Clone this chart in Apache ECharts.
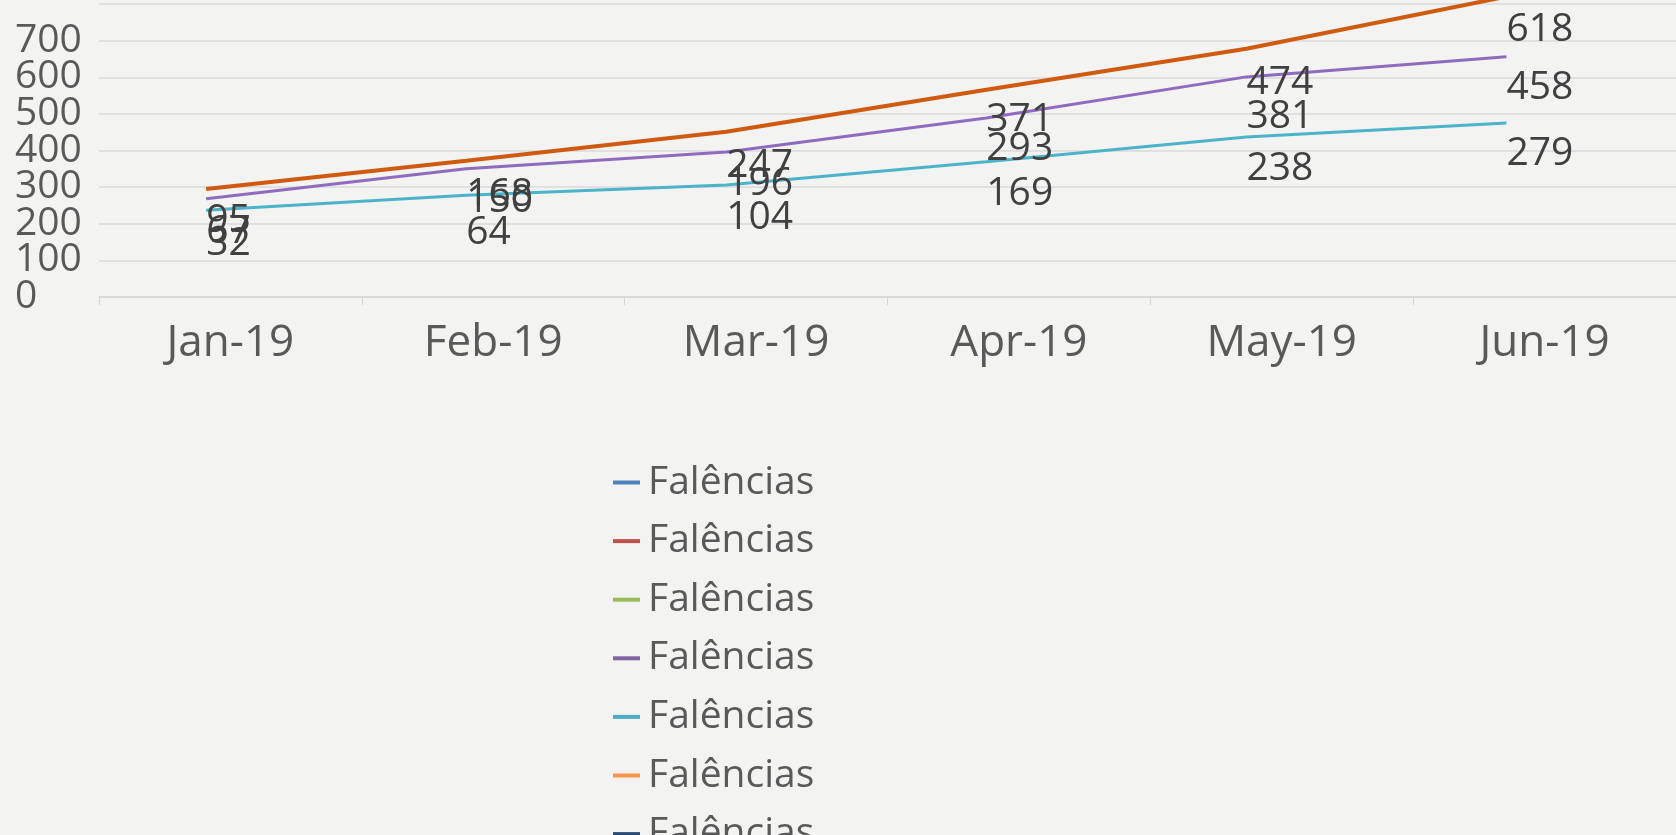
<!DOCTYPE html>
<html>
<head>
<meta charset="utf-8">
<script src="https://cdn.jsdelivr.net/npm/echarts@6/dist/echarts.min.js"></script>
<style>
html, body { margin: 0; padding: 0; background: #f3f3f1; }
#chart { width: 1676px; height: 835px; }
</style>
</head>
<body>
<div id="chart"></div>
<script>
// categorias (eixo X)
const months = ['Jan-19', 'Feb-19', 'Mar-19', 'Apr-19', 'May-19', 'Jun-19'];

// séries com rótulos (linhas não visíveis)
const blueVals = [32, 64, 104, 169, 238, 279];
const redVals = [67, 150, 196, 293, 381, 458];
const greenVals = [95, 168, 247, 371, 474, 618];

// séries com linha visível
const purpleVals = [268, 350, 396, 489, 601, 656];
const aquaVals = [237, 278, 306, 369, 437, 475];
const orangeVals = [295, 372, 451, 566, 678, 820];
const darkBlueVals = [];

const legendName = 'Falências';
const legendColors = ['#4f81bd', '#c0504d', '#9bbb59', '#8064a2', '#4bacc6', '#f79646', '#2c4d75'];
const font = "'Open Sans', 'Noto Sans', sans-serif";

const toPoints = vals => vals.map((v, i) => [i, v]);

const chart = echarts.init(document.getElementById('chart'));

// série só com rótulos
const labelSeries = (idx, vals) => ({
  name: legendName + ' ' + idx,
  type: 'line',
  xAxisIndex: 1,
  data: toPoints(vals),
  symbol: 'circle',
  symbolSize: 0,
  lineStyle: { width: 0, opacity: 0 },
  itemStyle: { color: legendColors[idx - 1] },
  silent: true,
  z: 5,
  label: {
    show: true,
    position: 'right',
    distance: 0,
    offset: [0, -41],
    fontSize: 39,
    fontFamily: font,
    color: '#404040'
  }
});

// série com linha
const lineSeries = (idx, vals, color, width) => ({
  name: legendName + ' ' + idx,
  type: 'line',
  xAxisIndex: 1,
  data: toPoints(vals),
  symbol: 'none',
  clip: false,
  lineStyle: { color: color, width: width },
  itemStyle: { color: color },
  silent: true,
  z: 3
});

// eixo Y (dois eixos iguais para não esconder o rótulo "0")
const yAxisBase = (showFn, withGrid) => ({
  type: 'value',
  min: 0,
  max: 800,
  interval: 100,
  position: 'left',
  axisLine: { show: false },
  axisTick: { show: false },
  axisLabel: {
    formatter: v => (showFn(v) ? String(v) : ''),
    align: 'left',
    margin: 84,
    padding: [5, 0, 0, 0],
    fontSize: 39,
    fontFamily: font,
    color: '#595959'
  },
  splitLine: { show: withGrid, lineStyle: { color: '#dadada', width: 1.5 } }
});

const option = {
  backgroundColor: '#f3f3f1',
  animation: false,
  grid: { left: 99, top: 4, width: 1590, height: 293 },
  legend: {
    orient: 'vertical',
    left: 608,
    top: 458,
    height: 1000,
    icon: 'rect',
    itemWidth: 27,
    itemHeight: 4,
    itemGap: 19.6,
    formatter: () => legendName,
    textStyle: { fontSize: 39, fontFamily: font, color: '#595959', padding: [0, 0, 0, 3] },
    data: legendColors.map((c, i) => ({ name: legendName + ' ' + (i + 1), itemStyle: { color: c } }))
  },
  xAxis: [
    {
      type: 'category',
      data: months,
      boundaryGap: true,
      axisLine: { lineStyle: { color: '#d6d6d6', width: 1.5 } },
      axisTick: { show: true, length: 8, lineStyle: { color: '#d6d6d6' } },
      axisLabel: { fontSize: 44, fontFamily: font, color: '#595959', margin: 24 },
      splitLine: { show: false }
    },
    {
      type: 'value',
      min: -0.412,
      max: 5.652,
      show: false
    }
  ],
  yAxis: [
    yAxisBase(v => v > 0 && v <= 700, true),
    yAxisBase(v => v === 0, false)
  ],
  series: [
    labelSeries(1, blueVals),
    labelSeries(2, redVals),
    labelSeries(3, greenVals),
    lineSeries(4, purpleVals, '#8e6bbf', 3),
    lineSeries(5, aquaVals, '#4bb4c8', 3),
    lineSeries(6, orangeVals, '#cf5a10', 4),
    lineSeries(7, darkBlueVals, '#2c4d75', 3)
  ]
};

chart.setOption(option);
</script>
</body>
</html>
